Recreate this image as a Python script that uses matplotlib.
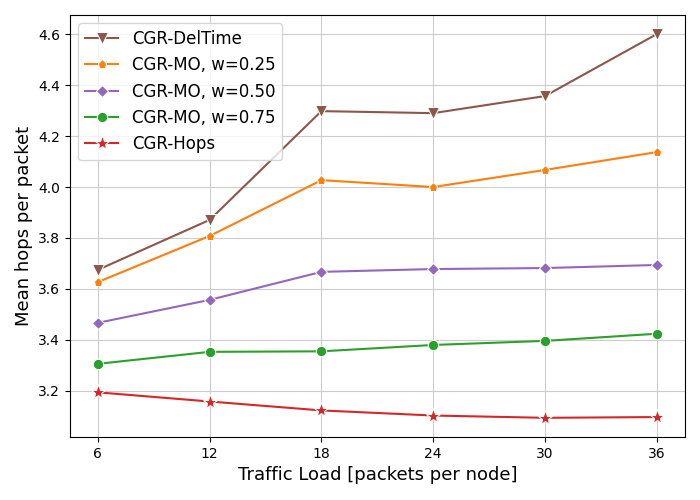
import matplotlib
matplotlib.use("Agg")
import matplotlib.pyplot as plt

loads = [6, 12, 18, 24, 30, 36]
deltime = [3.675, 3.871, 4.298, 4.290, 4.357, 4.600]
mo_025 = [3.627, 3.808, 4.027, 4.000, 4.067, 4.137]
mo_050 = [3.467, 3.557, 3.667, 3.678, 3.682, 3.694]
mo_075 = [3.306, 3.353, 3.355, 3.380, 3.396, 3.424]
hops = [3.194, 3.158, 3.123, 3.103, 3.094, 3.097]

fig, ax = plt.subplots(figsize=(7, 5), dpi=100)

series = [
    ("CGR-DelTime", deltime, "v", "#8c564b", 8),
    ("CGR-MO, w=0.25", mo_025, "p", "#ff7f0e", 6.5),
    ("CGR-MO, w=0.50", mo_050, "D", "#9467bd", 6.5),
    ("CGR-MO, w=0.75", mo_075, "o", "#2ca02c", 7.5),
    ("CGR-Hops", hops, "*", "#d62728", 11),
]
for name, vals, mk, col, ms in series:
    ax.plot(loads, vals, marker=mk, color=col, label=name, markersize=ms,
            markeredgecolor="white", markeredgewidth=0.75, linewidth=1.5)

ax.set_xticks(loads)
ax.grid(True, color="#cccccc", linewidth=0.8)
ax.set_axisbelow(True)
ax.set_xlabel("Traffic Load [packets per node]", fontsize=13)
ax.set_ylabel("Mean hops per packet", fontsize=13)
ax.legend(loc="upper left", fontsize=12)

fig.subplots_adjust(left=0.1, right=0.978, top=0.97, bottom=0.126)
fig.savefig("out.png")
